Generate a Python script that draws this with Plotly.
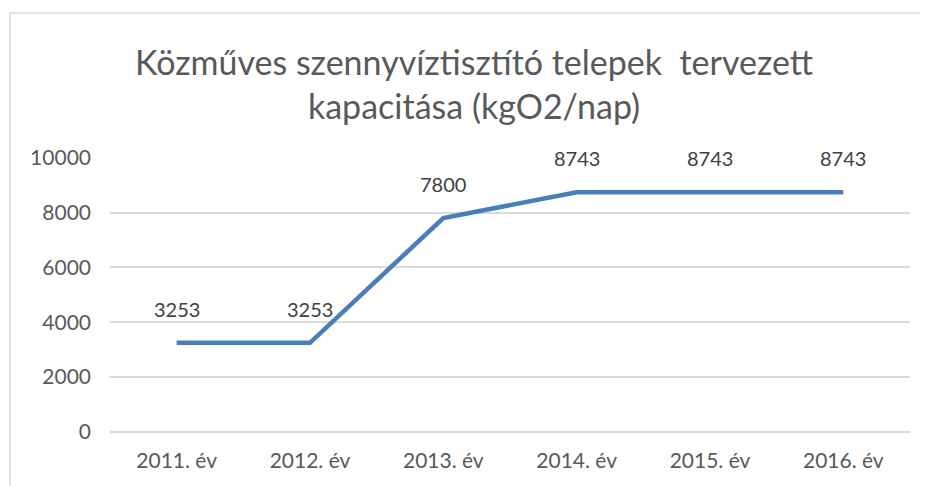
import plotly.graph_objects as go

categories = ["2011. év", "2012. év", "2013. év", "2014. év", "2015. év", "2016. év"]
values = [3253, 3253, 7800, 8743, 8743, 8743]
y_ticks = [0, 2000, 4000, 6000, 8000, 10000]
title_text = "Közműves szennyvíztisztító telepek  tervezett<br>kapacitása (kgO2/nap)"

OFF = 8  # page body margin
W, H = 928 - OFF, 486 - OFF
L, R, T, B = 110 - OFF, 18, 157 - OFF, 54
pw, ph = W - L - R, H - T - B

def px_x(x):
    return (x - OFF - L) / pw

def px_y(y):
    return (H - B - (y - OFF)) / ph

fig = go.Figure()
fig.add_trace(go.Scatter(
    x=categories, y=values, mode="lines",
    line=dict(color="#4A7EBB", width=4.5),
    hoverinfo="skip", showlegend=False,
))

for c, v in zip(categories, values):
    fig.add_annotation(x=c, y=v, text=str(v), showarrow=False, yshift=34,
                       font=dict(family="Lato", size=20, color="#404040"))

fig.add_annotation(xref="paper", yref="paper",
                   x=px_x(474), y=px_y(83), yanchor="middle",
                   text=title_text, showarrow=False,
                   font=dict(family="Lato", size=34, color="#595959"),
                   align="center")

# chart border
fig.add_shape(type="rect", xref="paper", yref="paper",
              x0=px_x(10), y0=-0.5, x1=1.5, y1=px_y(13),
              line=dict(color="#D9D9D9", width=1.5), layer="below")

fig.update_layout(
    width=W, height=H,
    margin=dict(l=L, r=R, t=T, b=B),
    paper_bgcolor="white", plot_bgcolor="white",
    font=dict(family="Lato", color="#595959"),
    xaxis=dict(showgrid=False, showline=False, zeroline=False,
               tickfont=dict(size=21, color="#595959"), ticks="",
               ticklabelstandoff=14, range=[-0.5, 5.5]),
    yaxis=dict(range=[0, 10025], tickvals=y_ticks,
               ticktext=[str(t) for t in y_ticks],
               showgrid=True, gridcolor="#D9D9D9", gridwidth=1.5,
               zeroline=True, zerolinecolor="#D9D9D9", zerolinewidth=1.5,
               showline=False, ticks="", ticklabelstandoff=18,
               tickfont=dict(size=21, color="#595959")),
)

fig.write_html("out.html")
